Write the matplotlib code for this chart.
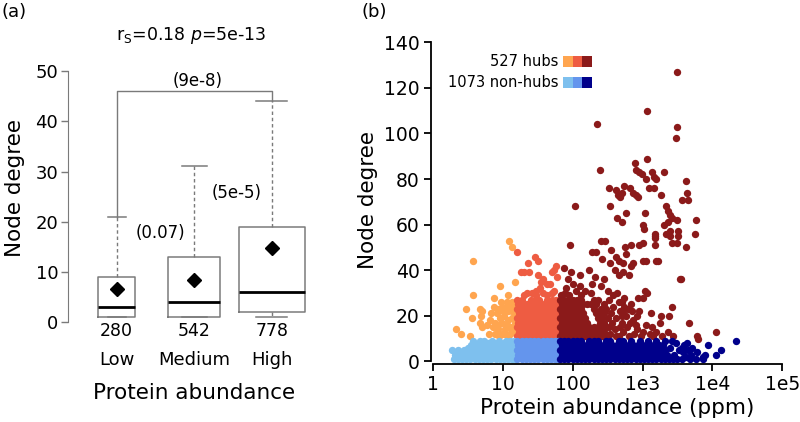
import numpy as np
import matplotlib
matplotlib.use("Agg")
import matplotlib.pyplot as plt
from matplotlib.patches import Rectangle

plt.rcParams['font.family'] = ['DejaVu Sans']
plt.rcParams['mathtext.fontset'] = 'dejavusans'

# ---- panel (a): box summary
groups = ['Low', 'Medium', 'High']
counts = [280, 542, 778]
q1 = [1, 1, 2]
med = [3, 4, 6]
q3 = [9, 13, 19]
whislo = [1, 1, 1]
whishi = [21, 31, 44]
means = [6.7, 8.5, 14.7]
pvals = ['(0.07)', '(5e-5)', '(9e-8)']

# ---- panel (b): (log10 abundance ppm, node degree)
hub_orange = [
    (1.09, 53), (1.14, 50), (0.57, 44), (0.96, 33), (1.18, 35), (0.58, 29), (0.87, 28),
    (1.07, 29), (0.48, 23), (0.67, 23), (0.70, 22), (0.69, 20), (0.56, 19), (0.33, 14),
    (0.41, 12), (0.54, 11), (0.68, 17), (0.70, 15), (0.88, 24), (0.94, 23), (0.99, 24),
    (1.05, 24), (1.11, 25), (1.14, 26), (1.08, 22), (1.13, 22), (0.92, 21), (0.96, 19),
    (0.89, 17), (0.99, 17), (1.07, 18), (1.13, 19), (0.86, 15), (0.94, 14), (1.03, 14),
    (1.11, 15), (1.16, 15), (0.89, 12), (0.99, 12), (1.11, 12), (1.16, 13), (0.80, 12),
    (1.02, 20), (1.17, 21), (1.17, 17), (1.06, 16), (0.82, 18), (0.77, 16), (0.93, 16),
    (1.01, 22), (1.15, 24), (0.98, 26), (1.06, 26), (0.84, 21), (1.04, 12), (1.12, 14),
    (0.95, 11), (1.07, 11),
]
hub_tomato = [
    (1.21, 48), (1.46, 46), (1.50, 44), (1.36, 43), (1.26, 39), (1.31, 39), (1.38, 39),
    (1.51, 38), (1.58, 36), (1.63, 34), (1.55, 35), (1.76, 42), (1.74, 40), (1.77, 37),
    (1.70, 39), (1.42, 30), (1.53, 32), (1.67, 34), (1.63, 29), (1.73, 31), (1.47, 31),
    (1.35, 30), (1.58, 30), (1.70, 30), (1.30, 29), (1.48, 29),
    (1.21, 27), (1.27, 27), (1.40, 27), (1.46, 27), (1.52, 27),
    (1.64, 27), (1.70, 27), (1.76, 27),
    (1.22, 25), (1.28, 25), (1.35, 25), (1.41, 25), (1.47, 25), (1.53, 25), (1.59, 25),
    (1.65, 25), (1.71, 25), (1.77, 25),
    (1.20, 23), (1.26, 23), (1.32, 23), (1.38, 23), (1.44, 23), (1.50, 23), (1.56, 23),
    (1.62, 23), (1.68, 23), (1.74, 23), (1.79, 23),
    (1.23, 21), (1.29, 21), (1.35, 21), (1.41, 21), (1.47, 21), (1.53, 21), (1.59, 21),
    (1.65, 21), (1.71, 21), (1.77, 21),
    (1.21, 19), (1.27, 19), (1.33, 19), (1.39, 19), (1.45, 19), (1.51, 19), (1.57, 19),
    (1.63, 19), (1.69, 19), (1.75, 19),
    (1.22, 17), (1.28, 17), (1.34, 17), (1.40, 17), (1.46, 17), (1.52, 17), (1.58, 17),
    (1.64, 17), (1.70, 17), (1.76, 17),
    (1.20, 15), (1.26, 15), (1.32, 15), (1.38, 15), (1.44, 15), (1.50, 15), (1.56, 15),
    (1.62, 15), (1.68, 15), (1.74, 15), (1.79, 15),
    (1.23, 13), (1.29, 13), (1.35, 13), (1.41, 13), (1.47, 13), (1.53, 13), (1.59, 13),
    (1.65, 13), (1.71, 13), (1.77, 13),
    (1.21, 11), (1.27, 11), (1.33, 11), (1.39, 11), (1.45, 11), (1.51, 11), (1.57, 11),
    (1.63, 11), (1.69, 11), (1.75, 11), (1.79, 11),
]
hub_dark = [
    # top
    (3.49, 127), (3.06, 110), (2.35, 104), (3.49, 103), (3.48, 98), (2.39, 84), (2.89, 87),
    (3.06, 89), (2.91, 84), (2.95, 83), (2.99, 82), (3.14, 83), (3.16, 81), (3.19, 80),
    (3.05, 80), (3.31, 83), (3.62, 79), (2.74, 77), (2.52, 76), (2.62, 75), (2.65, 73),
    (2.68, 72), (2.70, 74), (2.82, 76), (2.86, 74), (2.90, 73), (2.93, 72), (3.09, 76),
    (3.17, 76), (3.26, 73), (3.63, 74), (3.56, 71), (3.65, 71), (2.04, 68), (2.54, 68),
    (2.77, 65), (2.63, 63), (2.70, 61), (3.04, 65), (3.00, 60), (3.02, 58), (3.34, 68),
    (3.37, 66), (3.39, 64), (3.42, 63), (3.36, 61), (3.49, 62), (3.31, 60), (3.40, 57),
    (3.51, 57), (3.18, 56), (3.77, 62), (3.75, 56), (3.33, 56), (3.50, 52), (3.18, 54),
    (3.62, 50), (3.55, 36), (3.66, 17), (4.05, 13), (3.78, 11), (3.80, 10),
    # middle
    (1.96, 51), (1.88, 41), (1.98, 39), (2.23, 40), (2.32, 37), (2.01, 34), (2.10, 33),
    (2.18, 31), (1.90, 32), (2.28, 34), (2.41, 53), (2.46, 53), (2.28, 48), (2.33, 48),
    (2.42, 45), (2.54, 43), (2.55, 49), (2.62, 46), (2.67, 44), (2.72, 43), (2.60, 40),
    (2.66, 38), (2.72, 39), (2.80, 38), (2.84, 42), (2.75, 50), (2.77, 47), (2.84, 51),
    (2.87, 43), (2.95, 51), (3.00, 52), (3.18, 55), (3.18, 51), (3.00, 44), (3.05, 44),
    (3.19, 44), (3.22, 44), (3.40, 55), (3.42, 52), (3.51, 55), (3.54, 36), (2.45, 36),
    (2.40, 33), (2.10, 38), (1.94, 36),
    (3.04, 31), (3.07, 30), (2.94, 28), (3.01, 28), (2.70, 26), (2.79, 23), (2.85, 22),
    (2.72, 22), (3.42, 24), (3.38, 20), (3.27, 20), (2.92, 20), (3.14, 15), (3.36, 13),
    (3.44, 11),
    (2.52, 27), (2.58, 24), (2.55, 21), (2.62, 19), (2.56, 17), (2.60, 14), (2.54, 12),
    (2.66, 26), (2.68, 22), (2.70, 17), (2.72, 13), (2.66, 11), (2.76, 20), (2.78, 15),
    (2.80, 11), (2.84, 25), (2.86, 18), (2.88, 12), (2.92, 14), (2.95, 22), (2.98, 11),
    (3.05, 16), (3.10, 12), (3.12, 21), (3.20, 13), (3.25, 17), (3.28, 11), (2.58, 29),
    (2.50, 31), (2.64, 30), (2.74, 28), (2.52, 15), (2.62, 11), (2.68, 15), (2.74, 24),
    (2.82, 17), (2.90, 16), (3.00, 13), (3.15, 11), (2.70, 20),
    # dense block
    (1.83, 29), (1.89, 30), (1.95, 29), (2.05, 31), (2.12, 29), (2.26, 30),
    (1.82, 27), (1.88, 27), (1.94, 27), (2.00, 27), (2.06, 27), (2.12, 27),
    (2.30, 27), (2.36, 27),
    (1.85, 25), (1.91, 25), (1.97, 25), (2.03, 25), (2.09, 25), (2.15, 25), (2.21, 25),
    (2.27, 25), (2.33, 25), (2.45, 25),
    (1.82, 23), (1.88, 23), (1.94, 23), (2.00, 23), (2.06, 23), (2.12, 23),
    (2.30, 23), (2.40, 23), (2.48, 23),
    (1.85, 21), (1.91, 21), (1.97, 21), (2.03, 21), (2.09, 21), (2.15, 21),
    (2.33, 21), (2.39, 21), (2.45, 21),
    (1.82, 19), (1.88, 19), (1.94, 19), (2.00, 19), (2.06, 19), (2.12, 19), (2.18, 19),
    (2.36, 19), (2.42, 19), (2.50, 19),
    (1.85, 17), (1.91, 17), (1.97, 17), (2.03, 17), (2.09, 17), (2.15, 17), (2.21, 17),
    (2.39, 17), (2.45, 17),
    (1.82, 15), (1.88, 15), (1.94, 15), (2.00, 15), (2.06, 15), (2.12, 15), (2.18, 15),
    (2.24, 15), (2.30, 15), (2.36, 15), (2.42, 15), (2.48, 15),
    (1.85, 13), (1.91, 13), (1.97, 13), (2.03, 13), (2.09, 13), (2.15, 13), (2.21, 13),
    (2.27, 13), (2.33, 13), (2.39, 13), (2.45, 13),
    (1.82, 11), (1.88, 11), (1.94, 11), (2.00, 11), (2.06, 11), (2.12, 11), (2.18, 11),
    (2.24, 11), (2.30, 11), (2.36, 11), (2.42, 11), (2.48, 11),
]
non_light = [
    (0.30, 1), (0.36, 1), (0.42, 1), (0.48, 1), (0.54, 1), (0.60, 1), (0.66, 1), (0.72, 1),
    (0.78, 1), (0.84, 1), (0.90, 1), (0.96, 1), (1.02, 1), (1.08, 1), (1.14, 1), (1.18, 1),
    (0.33, 2), (0.45, 2), (0.57, 2), (0.69, 2), (0.81, 2), (0.93, 2), (1.05, 2), (1.16, 2),
    (0.32, 3), (0.39, 3), (0.47, 3), (0.55, 3), (0.62, 3), (0.68, 3), (0.74, 3), (0.80, 3),
    (0.86, 3), (0.92, 3), (0.98, 3), (1.04, 3), (1.10, 3), (1.16, 3),
    (0.40, 4), (0.64, 4), (0.88, 4), (1.12, 4),
    (0.28, 5), (0.36, 5), (0.44, 5), (0.52, 5), (0.60, 5), (0.66, 5), (0.72, 5), (0.78, 5),
    (0.84, 5), (0.90, 5), (0.96, 5), (1.02, 5), (1.08, 5), (1.14, 5), (1.18, 5),
    (0.50, 6), (0.63, 6), (0.75, 6), (0.87, 6), (0.99, 6), (1.11, 6),
    (0.55, 7), (0.64, 7), (0.70, 7), (0.76, 7), (0.82, 7), (0.88, 7), (0.94, 7), (1.00, 7),
    (1.06, 7), (1.12, 7), (1.17, 7),
    (0.67, 8), (0.79, 8), (0.91, 8), (1.03, 8), (1.15, 8),
    (0.58, 9), (0.68, 9), (0.74, 9), (0.85, 9), (0.95, 9), (1.05, 9), (1.10, 9), (1.16, 9),
]
non_mid = [
    (1.21, 1), (1.27, 1), (1.33, 1), (1.39, 1), (1.45, 1), (1.51, 1), (1.57, 1), (1.63, 1),
    (1.69, 1), (1.75, 1), (1.79, 1),
    (1.22, 3), (1.28, 3), (1.34, 3), (1.40, 3), (1.46, 3), (1.52, 3), (1.58, 3), (1.64, 3),
    (1.70, 3), (1.76, 3),
    (1.21, 5), (1.27, 5), (1.33, 5), (1.39, 5), (1.45, 5), (1.51, 5), (1.57, 5), (1.63, 5),
    (1.69, 5), (1.75, 5), (1.79, 5),
    (1.22, 7), (1.28, 7), (1.34, 7), (1.40, 7), (1.46, 7), (1.52, 7), (1.58, 7), (1.64, 7),
    (1.70, 7), (1.76, 7),
    (1.21, 9), (1.27, 9), (1.33, 9), (1.39, 9), (1.45, 9), (1.51, 9), (1.57, 9), (1.63, 9),
    (1.69, 9), (1.75, 9), (1.79, 9),
    (1.24, 2), (1.48, 2), (1.72, 2), (1.36, 4), (1.60, 4), (1.30, 6), (1.54, 6), (1.78, 6),
    (1.42, 8), (1.66, 8),
]
non_dark = [
    (1.82, 1), (1.88, 1), (1.94, 1), (2.00, 1), (2.06, 1), (2.12, 1), (2.18, 1), (2.24, 1),
    (2.30, 1), (2.36, 1), (2.42, 1), (2.48, 1), (2.54, 1), (2.60, 1), (2.66, 1), (2.72, 1),
    (2.78, 1), (2.84, 1), (2.90, 1), (2.96, 1), (3.02, 1), (3.08, 1), (3.14, 1), (3.20, 1),
    (3.26, 1), (3.32, 1), (3.38, 1), (3.44, 1), (3.50, 1),
    (1.85, 3), (1.91, 3), (1.97, 3), (2.03, 3), (2.09, 3), (2.15, 3), (2.21, 3), (2.27, 3),
    (2.33, 3), (2.39, 3), (2.45, 3), (2.51, 3), (2.57, 3), (2.63, 3), (2.69, 3), (2.75, 3),
    (2.81, 3), (2.87, 3), (2.93, 3), (2.99, 3), (3.05, 3), (3.11, 3), (3.17, 3), (3.23, 3),
    (3.29, 3), (3.35, 3),
    (1.82, 5), (1.88, 5), (1.94, 5), (2.00, 5), (2.06, 5), (2.12, 5), (2.18, 5), (2.24, 5),
    (2.30, 5), (2.36, 5), (2.42, 5), (2.48, 5), (2.54, 5), (2.60, 5), (2.66, 5), (2.72, 5),
    (2.78, 5), (2.84, 5), (2.90, 5), (2.96, 5), (3.02, 5), (3.08, 5), (3.14, 5), (3.20, 5),
    (3.26, 5), (3.32, 5),
    (1.85, 7), (1.91, 7), (1.97, 7), (2.03, 7), (2.09, 7), (2.15, 7), (2.21, 7), (2.27, 7),
    (2.33, 7), (2.39, 7), (2.45, 7), (2.51, 7), (2.57, 7), (2.63, 7), (2.69, 7), (2.75, 7),
    (2.81, 7), (2.87, 7), (2.93, 7), (2.99, 7), (3.05, 7), (3.11, 7), (3.17, 7), (3.23, 7),
    (3.29, 7),
    (1.82, 9), (1.88, 9), (1.94, 9), (2.00, 9), (2.06, 9), (2.12, 9), (2.24, 9), (2.30, 9),
    (2.36, 9), (2.48, 9), (2.54, 9), (2.66, 9), (2.72, 9), (2.84, 9), (2.96, 9), (3.08, 9),
    (3.20, 9), (3.32, 9),
    (3.40, 6), (3.45, 3), (3.48, 8), (3.52, 5), (3.56, 1), (3.58, 4), (3.62, 2), (3.60, 7),
    (3.65, 5), (3.68, 1), (3.70, 3), (3.63, 8), (3.71, 6), (3.78, 4), (3.86, 2), (3.87, 1),
    (3.94, 7), (4.05, 3), (4.12, 5), (4.33, 9), (3.56, 6), (3.42, 9), (3.77, 1), (3.89, 3),
]

hub_cols = ['#FFA54F', '#EE5C42', '#8B1A1A']
non_cols = ['#7EC0EE', '#6495ED', '#00008B']

fig = plt.figure(figsize=(8, 4.22), dpi=100)

# ================= panel (a)
ax1 = fig.add_axes([68 / 800, 0.2184, 252 / 800, 0.6372])
pos = [1, 2, 3]
stats = []
for i in range(3):
    stats.append({'med': med[i], 'q1': q1[i], 'q3': q3[i], 'whislo': whislo[i],
                  'whishi': whishi[i], 'mean': means[i], 'fliers': []})
grey = '#7a7a7a'
ax1.bxp(stats, positions=pos, widths=[0.48, 0.67, 0.86], capwidths=[0.23, 0.33, 0.40],
        showmeans=True, showfliers=False,
        boxprops=dict(color=grey, lw=1.1),
        medianprops=dict(color='black', lw=2),
        whiskerprops=dict(color=grey, lw=1, linestyle=(0, (2.5, 2))),
        capprops=dict(color=grey, lw=1.1),
        meanprops=dict(marker='D', markerfacecolor='black', markeredgecolor='black',
                       markersize=7))
ax1.plot([1, 1, 3, 3], [whishi[0], 46, 46, whishi[2]], color=grey, lw=1)
ax1.text(2.04, 48, pvals[2], ha='center', va='center', fontsize=12)
ax1.text(1.56, 17.7, pvals[0], ha='center', va='center', fontsize=12)
ax1.text(2.54, 25.8, pvals[1], ha='center', va='center', fontsize=12)
for i in range(3):
    ax1.text(pos[i], -1.7, str(counts[i]), ha='center', va='center', fontsize=12.5)
    ax1.text(pos[i], -7.6, groups[i], ha='center', va='center', fontsize=13)

ax1.set_xlim(0.372, 3.62)
ax1.set_ylim(-1.5, 52)
for s in ['top', 'right', 'bottom']:
    ax1.spines[s].set_visible(False)
ax1.spines['left'].set_bounds(0, 50)
ax1.spines['left'].set_color(grey)
ax1.set_xticks([])
ax1.set_yticks([0, 10, 20, 30, 40, 50])
ax1.tick_params(axis='y', length=5, width=1, color=grey, pad=2, labelsize=13)

fig.text(0.2396, 0.915, r'r$_\mathrm{S}$=0.18 $\it{p}$=5e-13', ha='center', va='center',
         fontsize=12.5)
fig.text(0.019, 0.5545, 'Node degree', rotation=90, ha='center', va='center', fontsize=15.5)
fig.text(0.243, 0.0687, 'Protein abundance', ha='center', va='center', fontsize=15.5)
fig.text(0.002, 0.9716, '(a)', ha='left', va='center', fontsize=13)
fig.text(0.452, 0.9716, '(b)', ha='left', va='center', fontsize=13)

# ================= panel (b)
ax2 = fig.add_axes([0.5383, 0.1367, 0.4414, 0.7685])
for pts, c in zip([hub_orange, hub_tomato, hub_dark], hub_cols):
    a = np.array(pts)
    ax2.scatter(10 ** a[:, 0], a[:, 1], s=28, color=c, linewidths=0)
for pts, c in zip([non_light, non_mid, non_dark], non_cols):
    a = np.array(pts)
    ax2.scatter(10 ** a[:, 0], a[:, 1], s=28, color=c, linewidths=0)

ax2.set_xscale('log')
ax2.set_xlim(10 ** -0.03, 10 ** 5.02)
ax2.set_ylim(-1.3, 141)
ax2.set_xticks([1, 10, 100, 1e3, 1e4, 1e5])
ax2.set_xticklabels(['1', '10', '100', '1e3', '1e4', '1e5'])
ax2.xaxis.set_minor_locator(matplotlib.ticker.NullLocator())
ax2.set_yticks(range(0, 141, 20))
for s in ['top', 'right']:
    ax2.spines[s].set_visible(False)
ax2.spines['left'].set_bounds(0, 140)
ax2.spines['bottom'].set_bounds(1, 1e5)
for s in ['left', 'bottom']:
    ax2.spines[s].set_linewidth(1.3)
ax2.tick_params(length=5, width=1.3, labelsize=13.5, pad=3)

fig.text(0.46, 0.526, 'Node degree', rotation=90, ha='center', va='center', fontsize=15.5)
fig.text(0.772, 0.033, 'Protein abundance (ppm)', ha='center', va='center', fontsize=15.5)

# legend swatches
fig.text(558.3 / 800, 1 - 61.7 / 422, '527 hubs', ha='right', va='center', fontsize=10.5)
fig.text(558.3 / 800, 1 - 82.3 / 422, '1073 non-hubs', ha='right', va='center', fontsize=10.5)
for row, cols in enumerate([hub_cols, non_cols]):
    yc = 61.7 + row * 20.6
    for k, c in enumerate(cols):
        fig.patches.append(Rectangle(((563.3 + k * 9.5) / 800, 1 - (yc + 5.2) / 422),
                                     9.5 / 800, 10.4 / 422, transform=fig.transFigure,
                                     facecolor=c, edgecolor='none'))

fig.savefig('out.png', dpi=100)
